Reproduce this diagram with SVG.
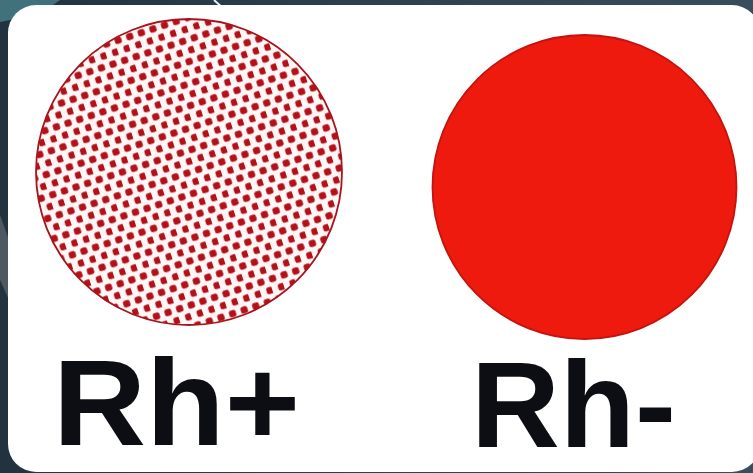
<svg xmlns="http://www.w3.org/2000/svg" width="753" height="473" viewBox="0 0 753 473">
  <style>
    .label { font-family: "Liberation Sans", Arial, sans-serif; font-weight: bold; font-size: 123px; fill: #0d0d14; }
  </style>
  <defs>
    <linearGradient id="bg" x1="0" y1="0" x2="1" y2="0">
      <stop offset="0" stop-color="#22323f"/>
      <stop offset="1" stop-color="#3a4d5c"/>
    </linearGradient>
    <pattern id="dots" patternUnits="userSpaceOnUse" width="12.2" height="21.1" patternTransform="rotate(-18 189 172)">
      <rect width="12.2" height="21.1" fill="#fff6f6"/>
      <rect x="0.2" y="0.2" width="7" height="7" rx="2.2" fill="#b3101a"/>
      <rect x="6.3" y="10.75" width="7" height="7" rx="2.2" fill="#b3101a"/>
    </pattern>
  </defs>

  <!-- background -->
  <rect x="0" y="0" width="753" height="473" fill="url(#bg)"/>
  <path d="M0 0 L60 0 L40 14 L0 22 Z" fill="#4f8c96" opacity="0.7"/>
  <path d="M0 215 L9 240 L9 300 L0 280 Z" fill="#6b7178" opacity="0.6"/>
  <path d="M214 0 L224 9" stroke="#e8eef2" stroke-width="2"/>

  <!-- card -->
  <rect x="8" y="5" width="752" height="467" rx="28" fill="#ffffff"/>

  <g id="rh-positive">
    <circle cx="189" cy="172" r="153" fill="url(#dots)" stroke="#a8141c" stroke-width="1.8"/>
    <text class="label" x="53" y="445" textLength="247" lengthAdjust="spacingAndGlyphs">Rh+</text>
  </g>

  <g id="rh-negative">
    <circle cx="584.5" cy="187" r="152" fill="#ee1a0e" stroke="#c41410" stroke-width="1.8"/>
    <text class="label" x="471" y="447">Rh-</text>
  </g>

  <g id="connectors"></g>
</svg>
